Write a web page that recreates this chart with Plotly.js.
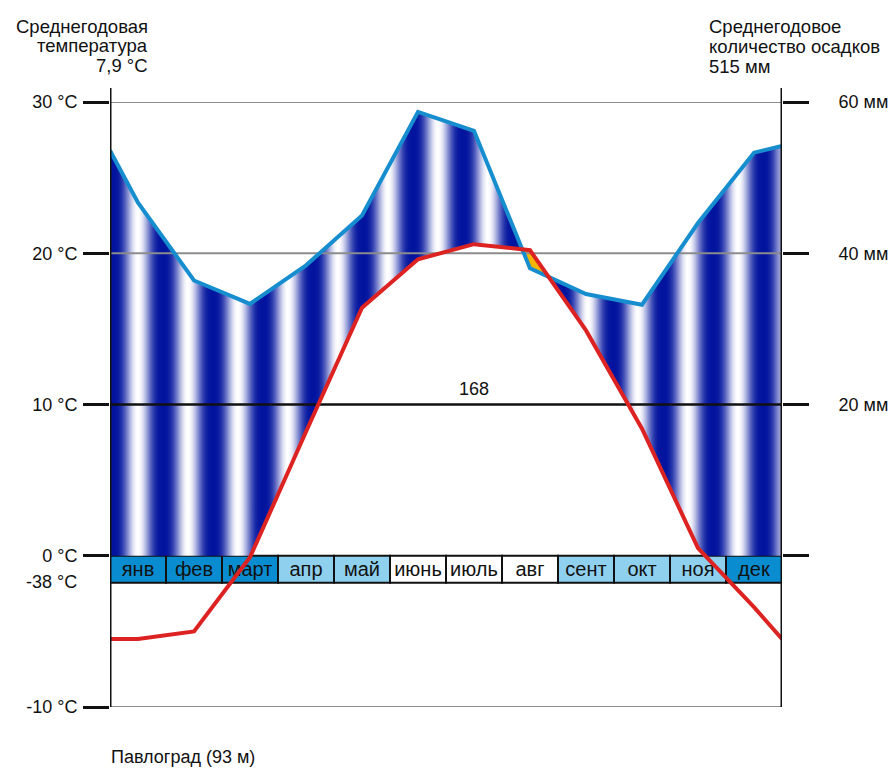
<!DOCTYPE html>
<html>
<head>
<meta charset="utf-8">
<script src="https://cdn.plot.ly/plotly-3.0.1.min.js"></script>
<style>html,body{margin:0;padding:0;background:#fff;}#chart{width:895px;height:771px;}</style>
</head>
<body>
<div id="chart"></div>
<script>
// ---------- data ----------
const months = ['янв','фев','март','апр','май','июнь','июль','авг','сент','окт','ноя','дек'];
const tempC = [-5.5, -5.0, -0.1, 8.2, 16.4, 19.6, 20.6, 20.2, 14.9, 8.4, 0.5, -3.4];
const precipMm = [46.7, 36.4, 33.3, 38.4, 45.0, 58.7, 56.2, 38.0, 34.6, 33.2, 44.0, 53.3];
const tempEdgeC = [-5.5, -5.5];        // value drawn at the year start / year end
const precipEdgeMm = [53.6, 54.2];     // value drawn at the year start / year end
const frostClass = ['frost','frost','frost','part','part','none','none','none','part','part','part','frost'];
const tempTickVals = [30, 20, 10, 0, -10];
const tempTickText = ['30 °C', '20 °C', '10 °C', '0 °C', '-10 °C'];
const precTickVals = [60, 40, 20, 0];
const precTickText = ['60 мм', '40 мм', '20 мм', ''];
const gridVals = [30, 20, 10, -10];
const absMinLabel = '-38 °C';
const frostFreeDays = '168';
const titleLeft = ['Среднегодовая', 'температура', '7,9 °C'];
const titleRight = ['Среднегодовое', 'количество осадков', '515 мм'];
const station = 'Павлоград (93 м)';

// ---------- derived geometry ----------
const MM_PER_DEG = 2;               // Walter–Lieth: 10 °C = 20 mm
const monthPos = months.map((_, i) => i + 0.5);
const xs = [0, ...monthPos, 12];
const T = [tempEdgeC[0], ...tempC, tempEdgeC[1]];
const Pmm = [precipEdgeMm[0], ...precipMm, precipEdgeMm[1]];
const Pc = Pmm.map(v => v / MM_PER_DEG);

// add the points where the drawn segments cross (so fills can be clipped exactly)
function refine() {
  const o = {x: [], T: [], P: []};
  for (let i = 0; i < xs.length - 1; i++) {
    const ts = [0];
    const d0 = T[i] - Pc[i], d1 = T[i + 1] - Pc[i + 1];
    if (d0 * d1 < 0) ts.push(d0 / (d0 - d1));
    if (T[i] * T[i + 1] < 0) ts.push(T[i] / (T[i] - T[i + 1]));
    ts.sort((a, b) => a - b);
    ts.forEach(t => {
      o.x.push(xs[i] + t * (xs[i + 1] - xs[i]));
      o.T.push(T[i] + t * (T[i + 1] - T[i]));
      o.P.push(Pc[i] + t * (Pc[i + 1] - Pc[i]));
    });
  }
  const n = xs.length - 1;
  o.x.push(xs[n]); o.T.push(T[n]); o.P.push(Pc[n]);
  return o;
}
const R = refine();
const humidLow = R.T.map(v => Math.max(v, 0));
const humidHigh = R.P.map((p, i) => Math.max(p, humidLow[i]));
const aridLow = R.P;
const aridHigh = R.T.map((t, i) => Math.max(t, R.P[i]));

// striped gradient colorscale
function stripes() {
  const period = 50 / 56, offset = 3 / 56;
  const dark = [2, 20, 158], white = [255, 255, 255];
  const cs = [];
  const step = period / 20;
  for (let u = 0; u <= 12 + 1e-9; u += step) {
    let ph = ((u - offset) / period) % 1; if (ph < 0) ph += 1;
    let s = (1 - Math.cos(2 * Math.PI * ph)) / 2; s = Math.pow(s, 1.5);
    const c = dark.map((d, k) => Math.round(d + (white[k] - d) * s));
    cs.push([Math.min(u / 12, 1), 'rgb(' + c.join(',') + ')']);
  }
  cs[cs.length - 1][0] = 1;
  return cs;
}

const bandDepth = -27 / 15.125;
const bandColor = {frost: '#0a8dd0', part: '#8fd0ee', none: '#ffffff'};
const font = 'Liberation Sans, Arial, sans-serif';
const ink = '#111111';

const traces = [
  { type: 'bar', x: monthPos, y: months.map(() => bandDepth), base: 0, width: 1,
    marker: {color: frostClass.map(c => bandColor[c]), line: {color: '#111', width: 2}},
    text: months, textposition: 'inside', insidetextanchor: 'middle', constraintext: 'none',
    textangle: 0, textfont: {family: font, size: 20, color: ink}, hoverinfo: 'skip', showlegend: false },
  { type: 'scatter', x: R.x, y: humidLow, mode: 'lines', line: {width: 0}, hoverinfo: 'skip', showlegend: false },
  { type: 'scatter', x: R.x, y: humidHigh, mode: 'lines', line: {width: 0}, fill: 'tonexty',
    fillgradient: {type: 'horizontal', colorscale: stripes(), start: 0, stop: 12},
    hoverinfo: 'skip', showlegend: false },
  { type: 'scatter', x: R.x, y: aridLow, mode: 'lines', line: {width: 0}, hoverinfo: 'skip', showlegend: false },
  { type: 'scatter', x: R.x, y: aridHigh, mode: 'lines', line: {width: 0}, fill: 'tonexty',
    fillcolor: '#f5b400', hoverinfo: 'skip', showlegend: false },
];
gridVals.forEach(v => traces.push({
  type: 'scatter', x: [xs[0], xs[xs.length - 1]], y: [v, v], mode: 'lines',
  line: {color: v === 10 ? '#111' : '#8c8c8c', width: v === 10 ? 2.5 : 2},
  hoverinfo: 'skip', showlegend: false, cliponaxis: false
}));
traces.push({ type: 'scatter', x: xs, y: Pmm, yaxis: 'y2', mode: 'lines',
  line: {color: '#168dce', width: 4}, hoverinfo: 'skip', showlegend: false, cliponaxis: false });
traces.push({ type: 'scatter', x: xs, y: T.map(v => v * MM_PER_DEG), yaxis: 'y2', mode: 'lines',
  line: {color: '#dd2222', width: 4}, hoverinfo: 'skip', showlegend: false, cliponaxis: false });

const L = 110, Rm = 113, Tm = 102, B = 64, W = 895, H = 771;
const pw = W - L - Rm, ph = H - Tm - B;
const px = x => (x - L) / pw, py = y => (H - B - y) / ph;
const ann = (text, x, y, xa, size) => ({text, xref: 'paper', yref: 'paper', x: px(x), y: py(y),
  xanchor: xa, yanchor: 'middle', showarrow: false, font: {family: font, size: size || 18.5, color: ink}});

const annotations = [];
titleLeft.forEach((t, i) => annotations.push(ann(t, 150, 26 + i * 19.5, 'right')));
titleRight.forEach((t, i) => annotations.push(ann(t, 707, 27 + i * 19.5, 'left')));
annotations.push(ann(absMinLabel, 79, 582, 'right', 18));
annotations.push(ann(station, 109, 757, 'left', 18));
annotations.push({text: frostFreeDays, xref: 'x', yref: 'y', x: 6.5, y: 10, yshift: 16,
  xanchor: 'center', yanchor: 'middle', showarrow: false, font: {family: font, size: 18, color: ink}});

const axisTop = 1 + 14 / ph;
const layout = {
  width: W, height: H, margin: {l: L, r: Rm, t: Tm, b: B, pad: 0},
  paper_bgcolor: '#fff', plot_bgcolor: '#fff', showlegend: false, hovermode: false,
  barmode: 'overlay',
  xaxis: {range: [0, 12], showticklabels: false, ticks: '', showgrid: false, zeroline: false, showline: false, fixedrange: true},
  yaxis: {range: [-10, 30], tickvals: tempTickVals, ticktext: tempTickText, ticks: 'outside', ticklen: 26,
    tickwidth: 3, tickcolor: '#111', showgrid: false, zeroline: false, showline: false,
    tickfont: {family: font, size: 18, color: ink}, ticklabelstandoff: 2, fixedrange: true},
  yaxis2: {range: [-20, 60], overlaying: 'y', side: 'right', tickvals: precTickVals, ticktext: precTickText,
    ticks: 'outside', ticklen: 26, tickwidth: 3, tickcolor: '#111', showgrid: false, zeroline: false,
    showline: false, tickfont: {family: font, size: 18, color: ink}, ticklabelstandoff: 26, fixedrange: true},
  shapes: [
    {type: 'line', xref: 'x', yref: 'paper', x0: 0, x1: 0, y0: 0, y1: axisTop, line: {color: '#111', width: 3}, layer: 'above'},
    {type: 'line', xref: 'x', yref: 'paper', x0: 12, x1: 12, y0: 0, y1: axisTop, line: {color: '#111', width: 3}, layer: 'above'}
  ],
  annotations
};
Plotly.newPlot('chart', traces, layout, {staticPlot: true, displayModeBar: false});
</script>
</body>
</html>
